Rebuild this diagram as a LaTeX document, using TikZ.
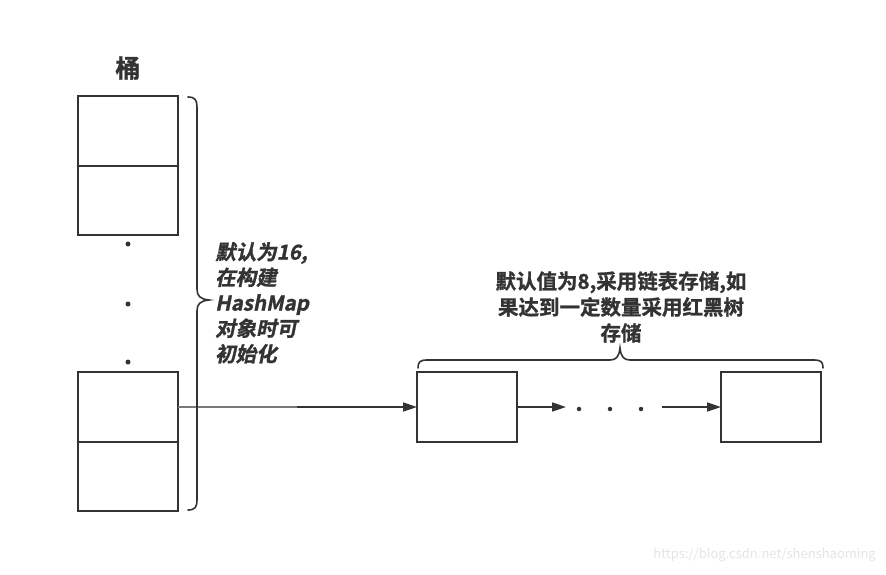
\documentclass[tikz,border=0pt]{standalone}
\usepackage{fontspec}
\newfontfamily\cjk[BoldFont={Noto Sans CJK SC Bold},BoldFeatures={FakeBold=1.2}]{Noto Sans CJK SC}
\newfontfamily\cjksl[FakeSlant=0.2,BoldFont={Noto Sans CJK SC Bold},BoldFeatures={FakeSlant=0.2,FakeBold=1.2}]{Noto Sans CJK SC}
\setmainfont{Noto Sans CJK SC}
\usetikzlibrary{arrows.meta}
\definecolor{ink}{HTML}{333333}
\definecolor{lightink}{HTML}{7A7A7A}
\begin{document}
\begin{tikzpicture}[x=1pt,y=-1pt,
  cell/.style={draw=ink,line width=1.6pt,minimum width=100pt,minimum height=69.5pt,inner sep=0pt,outer sep=0pt},
  conn/.style={draw=ink,line width=1.6pt,-{Triangle[length=14pt,width=9pt]}},
  brc/.style={draw=ink,line width=1.6pt,line cap=round},
  dot/.style={fill=ink,circle,inner sep=0pt,minimum size=5pt},
  lbl/.style={text=ink,font=\cjk\bfseries\fontsize{20.5}{26}\selectfont,inner sep=0pt}]
\useasboundingbox[fill=white] (0,0) rectangle (886,574);
% bucket column
\node[text=ink,font=\cjk\bfseries\fontsize{25}{28}\selectfont,inner sep=0pt] (title) at (128,68) {桶};
\node[cell] (b1) at (128,131) {};
\node[cell] (b2) at (128,200.5) {};
\node[dot] (d1) at (128,244) {};
\node[dot] (d2) at (128,304) {};
\node[dot] (d3) at (128,362) {};
\node[cell] (b3) at (128,407) {};
\node[cell] (b4) at (128,476.5) {};
% chain
\node[cell,minimum height=70pt] (c1) at (467,407) {};
\node[cell,minimum height=70pt] (c2) at (771,407) {};
\node[dot,minimum size=4.5pt] (e1) at (579,409) {};
\node[dot,minimum size=4.5pt] (e2) at (610,409) {};
\node[dot,minimum size=4.5pt] (e3) at (641,409) {};
\coordinate (a1) at (566,407);
\coordinate (a2) at (662,407);
\coordinate (g1) at (297,407);
\path[conn] (b3.east) -- (c1.west);
\draw[lightink,line width=1.8pt] (b3.east) -- (g1);
\path[conn] (c1.east) -- (a1);
\path[conn] (a2) -- (c2.west);
% left brace
\draw[brc] (188,97) .. controls (195,97) and (197,100) .. (197,107) -- (197,289)
  .. controls (197,296) and (200,299) .. (209,300)
  .. controls (200,301) and (197,304) .. (197,311) -- (197,500)
  .. controls (197,507) and (195,510) .. (188,510);
\node[text=ink,font=\cjksl\bfseries\fontsize{20.5}{25.5}\selectfont,inner sep=0pt,align=left,anchor=north west] (note1) at (215,242)
  {默认为16,\\在构建\\HashMap\\对象时可\\初始化};
% top brace
\draw[brc] (418,368) .. controls (418,362) and (420,360) .. (427,360) -- (610,360)
  .. controls (616,360) and (619,357) .. (620,348)
  .. controls (621,357) and (624,360) .. (630,360) -- (814,360)
  .. controls (821,360) and (823,362) .. (823,368);
\node[lbl,align=center] (note2) at (621,307)
  {默认值为8,采用链表存储,如\\果达到一定数量采用红黑树\\存储};
% watermark
\node[text=black!10,font=\fontsize{13}{15}\selectfont,inner sep=0pt,anchor=east] (wm) at (876,555) {https://blog.csdn.net/shenshaoming};
\end{tikzpicture}
\end{document}
